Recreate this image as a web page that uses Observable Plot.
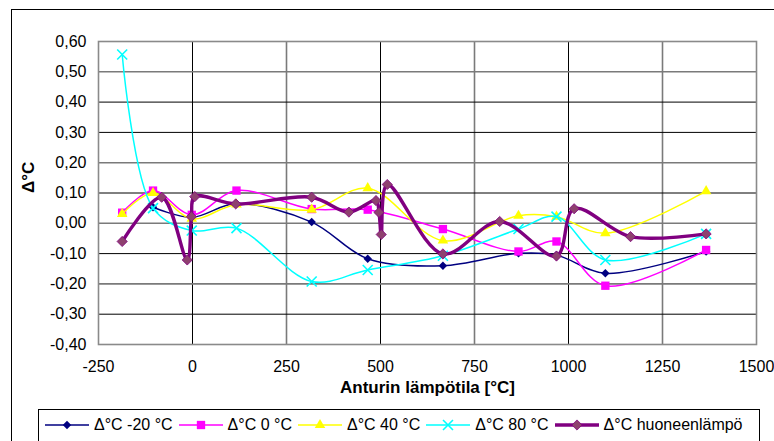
<!DOCTYPE html>
<html>
<head>
<meta charset="utf-8">
<script src="https://cdn.jsdelivr.net/npm/d3@7"></script>
<script src="https://cdn.jsdelivr.net/npm/@observablehq/plot@0.6"></script>
<style>
  html, body { margin: 0; padding: 0; background: #fff; overflow: hidden; }
  body { width: 774px; height: 441px; position: relative; font-family: "Liberation Sans", Arial, Helvetica, sans-serif; }
  #chart { position: absolute; left: 0; top: 0; }
  #border { position: absolute; left: 11px; top: 9px; width: 820px; height: 520px; border: 1px solid #000; box-sizing: border-box; pointer-events: none; }
  #legend { position: absolute; left: 38px; top: 409px; width: 722px; height: 44px; border: 1px solid #000; box-sizing: border-box; background: #fff;
            display: flex; align-items: flex-start; padding: 6px 0 0 6px; font-size: 16px; color: #000; }
  .item { display: flex; align-items: center; height: 18px; line-height: 18px; margin-right: 6px; white-space: nowrap; }
  .item svg { margin-right: 5px; overflow: visible; }
</style>
</head>
<body>
<div id="chart"></div>
<div id="legend"></div>
<div id="border"></div>
<script>
// ---- tick labels / axis values ----
const xTicks = [-250, 0, 250, 500, 750, 1000, 1250, 1500];
const yTicks = [-0.4, -0.3, -0.2, -0.1, 0, 0.1, 0.2, 0.3, 0.4, 0.5, 0.6];

// ---- series names ----
const seriesNames = ["Δ°C -20 °C", "Δ°C 0 °C", "Δ°C 40 °C", "Δ°C 80 °C", "Δ°C huoneenlämpö"];

// ---- series values (x = Anturin lämpötila [°C], y = Δ°C) ----
const xMinus20 = [-105, -2, 117, 317, 466, 666, 867, 968, 1098, 1366];
const yMinus20 = [0.053, 0.020, 0.065, 0.004, -0.117, -0.140, -0.099, -0.105, -0.165, -0.093];

const xZero = [-187, -105, -2, 117, 317, 466, 666, 867, 968, 1098, 1366];
const yZero = [0.035, 0.108, 0.028, 0.108, 0.047, 0.045, -0.019, -0.093, -0.060, -0.206, -0.088];

const xForty = [-187, -105, -2, 117, 317, 466, 666, 867, 968, 1098, 1366];
const yForty = [0.031, 0.100, 0.015, 0.062, 0.045, 0.116, -0.057, 0.025, 0.022, -0.033, 0.106];

const xEighty = [-187, -105, -2, 117, 317, 466, 666, 867, 968, 1098, 1366];
const yEighty = [0.557, 0.050, -0.024, -0.016, -0.192, -0.154, -0.107, -0.019, 0.022, -0.121, -0.035];

const xRoom = [-187, -82, -14, -3, 6, 115, 317, 416, 488, 496, 502, 518, 666, 817, 968, 1015, 1165, 1366];
const yRoom = [-0.060, 0.086, -0.121, 0.022, 0.088, 0.064, 0.086, 0.037, 0.075, 0.036, -0.037, 0.128, -0.101, 0.006, -0.108, 0.048, -0.044, -0.035];

// ---- styles ----
const styles = [
  {line: "#000080", width: 1.5, symbol: "diamond2", r: 3.8, fill: "#000080", stroke: "none", sw: 0},
  {line: "#FF00FF", width: 1.5, symbol: "square", r: 4.7, fill: "#FF00FF", stroke: "none", sw: 0},
  {line: "#FFFF00", width: 1.5, symbol: "triangle", r: 3.9, fill: "#FFFF00", stroke: "none", sw: 0},
  {line: "#00FFFF", width: 1.5, symbol: "times", r: 4.6, fill: "none", stroke: "#00FFFF", sw: 1.6},
  {line: "#800080", width: 3.4, symbol: "diamond2", r: 4.6, fill: "#8e416f", stroke: "#800080", sw: 0.8}
];

const xs = [xMinus20, xZero, xForty, xEighty, xRoom];
const ys = [yMinus20, yZero, yForty, yEighty, yRoom];
const series = seriesNames.map((name, i) => ({
  name, ...styles[i],
  data: xs[i].map((x, j) => ({x, y: ys[i][j]}))
}));

const font = '"Liberation Sans", Arial, Helvetica, sans-serif';
const greyX = new Set([250, 750, 1250]);
const greyY = new Set(["0.50", "0.20", "0.00"]);
const fmtY = d => d.toFixed(2).replace(".", ",");

const marks = [
  Plot.ruleX(xTicks.filter(d => !greyX.has(d) && d > -250 && d < 1500), {stroke: "#000", strokeWidth: 1}),
  Plot.ruleX(xTicks.filter(d => greyX.has(d)), {stroke: "#7a7a7a", strokeWidth: 1.6}),
  Plot.ruleY(yTicks.filter(d => !greyY.has(Math.abs(d).toFixed(2)) && d > -0.4 && d < 0.6), {stroke: "#000", strokeWidth: 1}),
  Plot.ruleY(yTicks.filter(d => greyY.has(Math.abs(d).toFixed(2))), {stroke: "#7a7a7a", strokeWidth: 1.6}),
  Plot.frame({stroke: "#8a8a8a", strokeWidth: 1.6})
];
for (const s of series) {
  marks.push(Plot.line(s.data, {x: "x", y: "y", stroke: s.line, strokeWidth: s.width, curve: "catmull-rom", strokeLinejoin: "round", strokeLinecap: "round"}));
  marks.push(Plot.dot(s.data, {x: "x", y: "y", symbol: s.symbol, r: s.r, fill: s.fill, stroke: s.stroke, strokeWidth: s.sw}));
}
marks.push(Plot.text(["Δ°C"], {frameAnchor: "left", dx: -70, rotate: -90, fontWeight: "bold", fontSize: 17, fill: "#000"}));
marks.push(Plot.text(["Anturin lämpötila [°C]"], {frameAnchor: "bottom", dy: 48, fontWeight: "bold", fontSize: 17, fill: "#000"}));

const chart = Plot.plot({
  width: 774,
  height: 409,
  marginLeft: 98,
  marginRight: 18,
  marginTop: 41,
  marginBottom: 65,
  style: {fontFamily: font, fontSize: "16px", color: "#000", background: "transparent"},
  x: {domain: [-250, 1500], ticks: xTicks, tickSize: 0, tickPadding: 16, tickFormat: d => String(d), label: null},
  y: {domain: [-0.4, 0.6], ticks: yTicks, tickSize: 0, tickPadding: 12, tickFormat: fmtY, label: null},
  marks
});
document.getElementById("chart").appendChild(chart);

// ---- legend (below the plot) ----
const symbolMap = {diamond2: d3.symbolDiamond2, square: d3.symbolSquare, triangle: d3.symbolTriangle, times: d3.symbolTimes};
const legend = d3.select("#legend");
for (const s of series) {
  const item = legend.append("div").attr("class", "item");
  const svg = item.append("svg").attr("width", 44).attr("height", 18);
  svg.append("line").attr("x1", 0).attr("x2", 44).attr("y1", 9).attr("y2", 9)
    .attr("stroke", s.line).attr("stroke-width", s.width);
  svg.append("path").attr("transform", "translate(22,9)")
    .attr("d", d3.symbol(symbolMap[s.symbol], s.r * s.r * Math.PI)())
    .attr("fill", s.fill).attr("stroke", s.stroke).attr("stroke-width", s.sw);
  item.append("span").text(s.name);
}
</script>
</body>
</html>
